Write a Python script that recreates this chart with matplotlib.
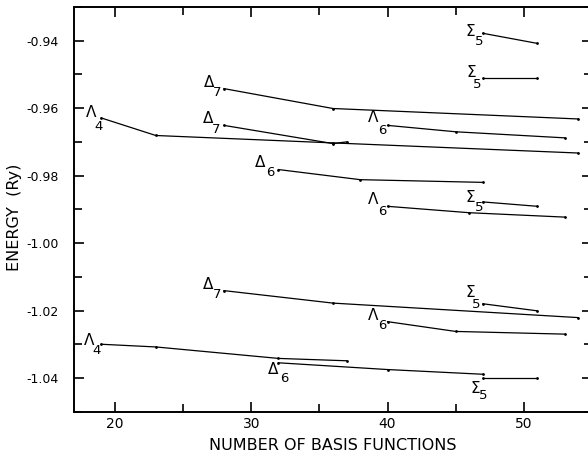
import matplotlib
matplotlib.use("Agg")
import matplotlib.pyplot as plt
from matplotlib.ticker import MultipleLocator

# ── band energies vs. number of basis functions ──
lam4_a_x = [19, 23, 36, 54]
lam4_a_y = [-0.9629, -0.9681, -0.9703, -0.9733]
del7_a_x = [28, 36, 54]
del7_a_y = [-0.9542, -0.9601, -0.9632]
del7_b_x = [28, 36, 37]
del7_b_y = [-0.9651, -0.9705, -0.9700]
lam6_a_x = [40, 45, 53]
lam6_a_y = [-0.9651, -0.9670, -0.9688]
del6_a_x = [32, 38, 47]
del6_a_y = [-0.9782, -0.9812, -0.9820]
lam6_b_x = [40, 46, 53]
lam6_b_y = [-0.9891, -0.9910, -0.9923]
sig5_a_x = [47, 51]
sig5_a_y = [-0.9378, -0.9408]
sig5_b_x = [47, 51]
sig5_b_y = [-0.9511, -0.9511]
sig5_c_x = [47, 51]
sig5_c_y = [-0.9878, -0.9891]

del7_c_x = [28, 36, 54]
del7_c_y = [-1.0141, -1.0178, -1.0221]
lam4_b_x = [19, 23, 32, 37]
lam4_b_y = [-1.0300, -1.0308, -1.0342, -1.0349]
lam6_c_x = [40, 45, 53]
lam6_c_y = [-1.0233, -1.0262, -1.0270]
del6_b_x = [32, 40, 47]
del6_b_y = [-1.0355, -1.0375, -1.0389]
sig5_d_x = [47, 51]
sig5_d_y = [-1.0180, -1.0201]
sig5_e_x = [47, 51]
sig5_e_y = [-1.0400, -1.0400]

series = [
    ("Λ", "4", lam4_a_x, lam4_a_y),
    ("Δ", "7", del7_a_x, del7_a_y),
    ("Δ", "7", del7_b_x, del7_b_y),
    ("Λ", "6", lam6_a_x, lam6_a_y),
    ("Δ", "6", del6_a_x, del6_a_y),
    ("Λ", "6", lam6_b_x, lam6_b_y),
    ("Σ", "5", sig5_a_x, sig5_a_y),
    ("Σ", "5", sig5_b_x, sig5_b_y),
    ("Σ", "5", sig5_c_x, sig5_c_y),
    ("Δ", "7", del7_c_x, del7_c_y),
    ("Λ", "4", lam4_b_x, lam4_b_y),
    ("Λ", "6", lam6_c_x, lam6_c_y),
    ("Δ", "6", del6_b_x, del6_b_y),
    ("Σ", "5", sig5_d_x, sig5_d_y),
    ("Σ", "5", sig5_e_x, sig5_e_y),
]

# label offsets (pixels) from first point: (letter dx, dy), (digit dx, dy)
label_offsets = [
    ((-10, 5), (-3, -9)),
    ((-15, 6), (-7, -4)),
    ((-16, 7), (-8, -4)),
    ((-14, 8), (-5, -5)),
    ((-18, 7), (-8, -3)),
    ((-14, 7), (-5, -5)),
    ((-13, 2), (-4, -8)),
    ((-12, 6), (-6, -6)),
    ((-13, 4), (-4, -6)),
    ((-16, 6), (-7, -4)),
    ((-12, 4), (-5, -6)),
    ((-14, 6), (-5, -4)),
    ((-5, -7), (6, -16)),
    ((-13, 11), (-7, -1)),
    ((-8, -11), (0, -18)),
]

plt.rcParams["font.family"] = ["DejaVu Sans"]
plt.rcParams["axes.unicode_minus"] = False

fig = plt.figure(figsize=(5.88, 4.57), dpi=100)
ax = fig.add_axes([74 / 588, 45.3 / 457, 518 / 588, 404.7 / 457])

for (letter, sub, xs, ys), (lo, do) in zip(series, label_offsets):
    ax.plot(xs, ys, color="black", linewidth=0.9, marker="o", markersize=1.0)
    ax.annotate(letter, (xs[0], ys[0]), xytext=lo, textcoords="offset pixels",
                ha="center", va="center", fontsize=11)
    ax.annotate(sub, (xs[0], ys[0]), xytext=do, textcoords="offset pixels",
                ha="center", va="center", fontsize=9.5)

ax.set_xlim(17, 55)
ax.set_ylim(-1.05, -0.93)
ax.xaxis.set_major_locator(MultipleLocator(10))
ax.xaxis.set_minor_locator(MultipleLocator(5))
ax.yaxis.set_major_locator(MultipleLocator(0.02))
ax.yaxis.set_minor_locator(MultipleLocator(0.01))
ax.yaxis.set_major_formatter(plt.FuncFormatter(lambda v, p: f"{v:.2f}"))
ax.tick_params(which="both", direction="in", top=True, right=True, width=1.2)
ax.tick_params(which="major", length=7)
ax.tick_params(which="minor", length=6)
ax.tick_params(axis="x", which="major", labelsize=10, pad=4)
ax.tick_params(axis="y", which="major", labelsize=9, pad=11)
for s in ax.spines.values():
    s.set_linewidth(1.4)

ax.set_xlabel("NUMBER OF BASIS FUNCTIONS", fontsize=11.5, labelpad=5)
ax.set_ylabel("ENERGY  (Ry)", fontsize=11.5)
ax.yaxis.set_label_coords(-0.10, 0.48)

fig.savefig("out.png", dpi=100)
